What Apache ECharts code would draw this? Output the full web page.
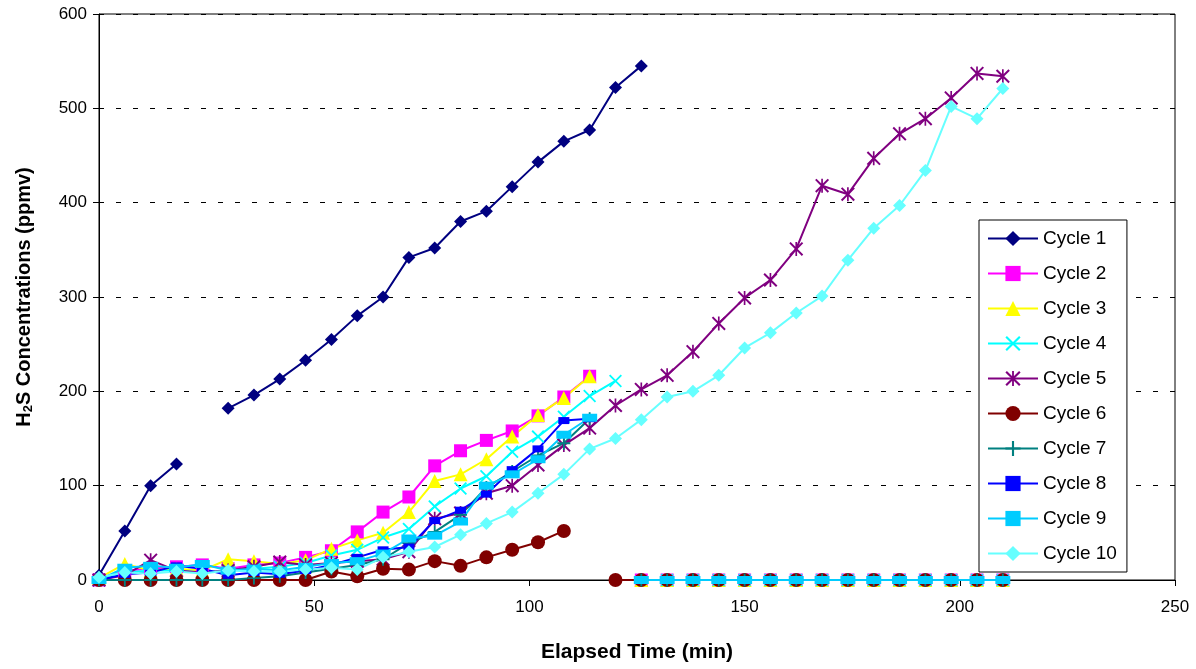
<!DOCTYPE html>
<html>
<head>
<meta charset="utf-8">
<script src="https://cdn.jsdelivr.net/npm/echarts@6/dist/echarts.min.js"></script>
<style>
  html, body { margin: 0; padding: 0; background: #fff; }
  #main { width: 1196px; height: 669px; }
</style>
</head>
<body>
<div id="main"></div>
<script>
var myChart = echarts.init(document.getElementById('main'));

// elapsed time, every 6 min
const times = [0, 6, 12, 18, 24, 30, 36, 42, 48, 54, 60, 66, 72, 78, 84, 90, 96, 102, 108, 114,
    120, 126, 132, 138, 144, 150, 156, 162, 168, 174, 180, 186, 192, 198, 204, 210]

const cycle1 = [5, 52, 100, 123, null, 182, 196, 213, 233, 255, 280, 300, 342, 352, 380, 391, 417, 443, 465, 477,
    522, 545]
const cycle2 = [0, 10, 12, 14, 16, 12, 16, 18, 24, 31, 51, 72, 88, 121, 137, 148, 158, 174, 194, 216,
    null, 0, 0, 0, 0, 0, 0, 0, 0, 0, 0, 0, 0, 0, 0, 0]
const cycle3 = [2, 17, 10, 12, 10, 22, 20, 17, 21, 33, 42, 50, 72, 105, 112, 128, 152, 175, 193, 216,
    null, 0, 0, 0, 0, 0, 0, 0, 0, 0, 0, 0, 0, 0, 0, 0]
const cycle4 = [0, 8, 10, 10, 8, 10, 12, 14, 18, 26, 32, 45, 54, 78, 97, 110, 136, 152, 173, 195,
    211, null, 0, 0, 0, 0, 0, 0, 0, 0, 0, 0, 0, 0, 0, 0]
const cycle5 = [0, 5, 21, 10, 8, 10, 14, 19, 16, 18, 20, 22, 30, 65, 71, 92, 100, 122, 143, 161,
    185, 202, 217, 242, 272, 299, 318, 351, 418, 409, 447, 473, 489, 511, 537, 534]
const cycle6 = [0, 0, 0, 0, 0, 0, 0, 0, 0, 9, 4, 12, 11, 20, 15, 24, 32, 40, 52, null,
    0, 0, 0, 0, 0, 0, 0, 0, 0, 0, 0, 0, 0, 0, 0, 0]
const cycle7 = [0, 0, 0, 0, 0, 0, 2, 4, 8, 12, 16, 22, 39, 51, 69, 98, 115, 132, 145, 171,
    null, 0, 0, 0, 0, 0, 0, 0, 0, 0, 0, 0, 0, 0, 0, 0]
const cycle8 = [0, 6, 8, 15, 12, 5, 8, 6, 10, 16, 24, 32, 35, 63, 74, 91, 117, 139, 169, 171,
    null, 0, 0, 0, 0, 0, 0, 0, 0, 0, 0, 0, 0, 0, 0, 0]
const cycle9 = [0, 13, 15, 13, 17, 10, 12, 10, 14, 18, 20, 28, 44, 47, 62, 100, 112, 128, 154, 172,
    null, 0, 0, 0, 0, 0, 0, 0, 0, 0, 0, 0, 0, 0, 0, 0]
const cycle10 = [3, 8, 7, 9, 7, 10, 9, 9, 11, 13, 11, 24, 30, 35, 48, 60, 72, 92, 112, 139,
    150, 170, 194, 200, 217, 246, 262, 283, 301, 339, 373, 397, 434, 502, 489, 521]

const names = ['Cycle 1', 'Cycle 2', 'Cycle 3', 'Cycle 4', 'Cycle 5', 'Cycle 6', 'Cycle 7', 'Cycle 8', 'Cycle 9', 'Cycle 10']
const values = [cycle1, cycle2, cycle3, cycle4, cycle5, cycle6, cycle7, cycle8, cycle9, cycle10]

const xPath = 'path://M0,1 L1,0 L5,4 L9,0 L10,1 L6,5 L10,9 L9,10 L5,6 L1,10 L0,9 L4,5 Z'
const starPath = xPath + ' M4.4,0 L5.6,0 L5.6,10 L4.4,10 Z'
const plusPath = 'path://M4.3,0 L5.7,0 L5.7,4.3 L10,4.3 L10,5.7 L5.7,5.7 L5.7,10 L4.3,10 L4.3,5.7 L0,5.7 L0,4.3 L4.3,4.3 Z'

const looks = [
    { color: '#000080', symbol: 'diamond', size: 13 },
    { color: '#FF00FF', symbol: 'rect', size: 13 },
    { color: '#FFFF00', symbol: 'triangle', size: 14 },
    { color: '#00FFFF', symbol: xPath, size: 13 },
    { color: '#800080', symbol: starPath, size: 14 },
    { color: '#800000', symbol: 'circle', size: 14 },
    { color: '#008080', symbol: plusPath, size: 13 },
    { color: '#0000FF', symbol: 'rect', size: [11, 7] },
    { color: '#00CCFF', symbol: 'rect', size: [15, 8] },
    { color: '#66FFFF', symbol: 'diamond', size: 13 }
]

const series = names.map((name, i) => {
    return {
        name: name,
        type: 'line',
        data: values[i].map((v, k) => [times[k], v]),
        symbol: looks[i].symbol,
        symbolSize: looks[i].size,
        showAllSymbol: true,
        connectNulls: false,
        lineStyle: { color: looks[i].color, width: 2 },
        itemStyle: { color: looks[i].color, opacity: 1 },
        emphasis: { disabled: true },
        animation: false
    }
})

option = {
    backgroundColor: '#fff',
    grid: {
        left: 99,
        right: 21,
        top: 14,
        bottom: 89,
        show: true,
        borderColor: '#000',
        borderWidth: 1
    },
    legend: {
        orient: 'vertical',
        left: 979,
        top: 220,
        padding: [9, 10, 9, 8],
        itemWidth: 50,
        itemHeight: 19,
        itemGap: 16,
        backgroundColor: '#fff',
        borderColor: '#000',
        borderWidth: 1,
        textStyle: { fontFamily: 'Arial', fontSize: 19, color: '#000' },
        data: names
    },
    xAxis: {
        type: 'value',
        min: 0,
        max: 250,
        interval: 50,
        name: 'Elapsed Time (min)',
        nameLocation: 'middle',
        nameGap: 62,
        nameTextStyle: { fontFamily: 'Arial', fontSize: 21, fontWeight: 'bold', color: '#000' },
        axisLine: { lineStyle: { color: '#000', width: 1 } },
        axisTick: { length: 6, lineStyle: { color: '#000' } },
        axisLabel: { fontFamily: 'Arial', fontSize: 17, color: '#000', margin: 19 },
        splitLine: { show: false }
    },
    yAxis: {
        type: 'value',
        min: 0,
        max: 600,
        interval: 100,
        name: '{a|H}{s|2}{a|S Concentrations (ppmv)}',
        nameLocation: 'middle',
        nameGap: 64,
        nameTextStyle: {
            rich: {
                a: { fontFamily: 'Arial', fontSize: 20, fontWeight: 'bold', color: '#000' },
                s: { fontFamily: 'Arial', fontSize: 13, fontWeight: 'bold', color: '#000', verticalAlign: 'bottom', padding: [8, 0, 0, 0] }
            }
        },
        axisLine: { show: true, lineStyle: { color: '#000', width: 1 } },
        axisTick: { show: true, length: 6, lineStyle: { color: '#000' } },
        axisLabel: { fontFamily: 'Arial', fontSize: 17, color: '#000', margin: 12 },
        splitLine: { show: true, lineStyle: { color: '#000', type: [5, 12], width: 1 } }
    },
    series: series
};

myChart.setOption(option)
</script>
</body>
</html>
